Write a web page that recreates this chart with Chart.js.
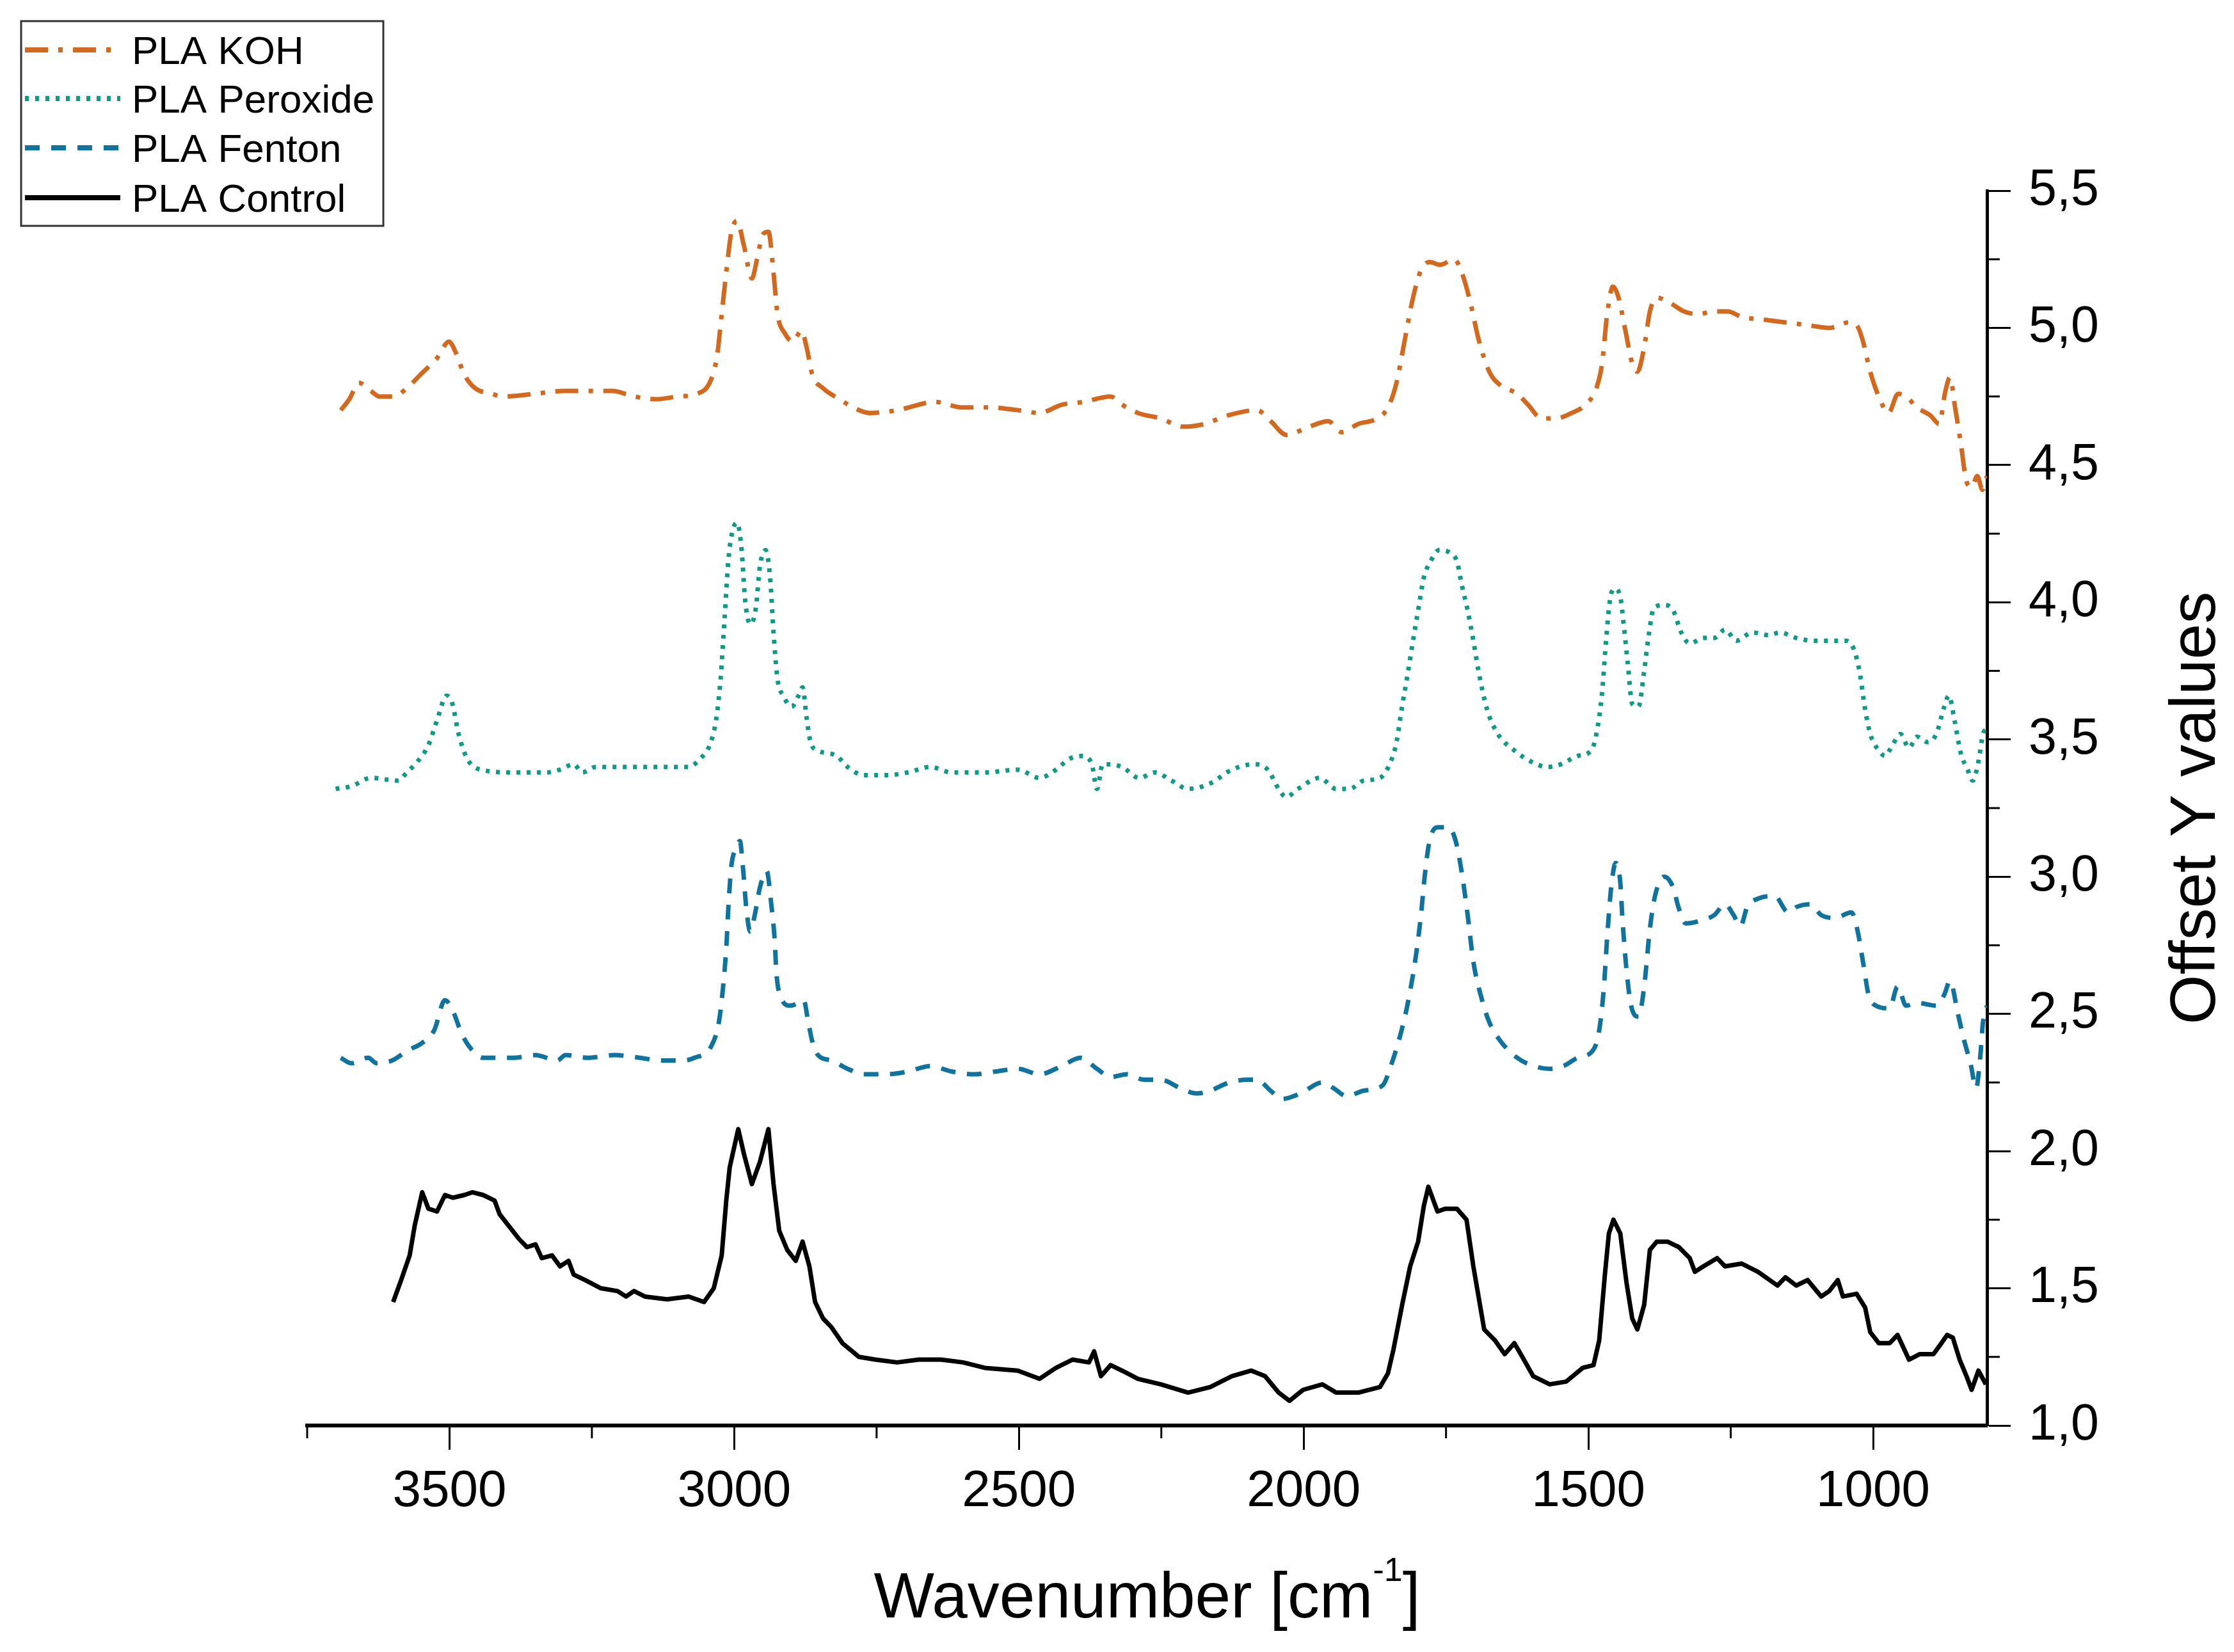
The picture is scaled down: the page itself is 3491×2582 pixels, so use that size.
<!DOCTYPE html>
<html>
<head>
<meta charset="utf-8">
<script src="https://cdn.jsdelivr.net/npm/chart.js@4.4.1/dist/chart.umd.min.js"></script>
<style>
  html, body { margin: 0; padding: 0; background: #fff; }
  #wrap { width: 3491px; height: 2582px; }
</style>
</head>
<body>
<div id="wrap"><canvas id="grafico" width="3491" height="2582"></canvas></div>
<script>
// axis ticks
var xTicks = [1000, 1500, 2000, 2500, 3000, 3500];
var xMinor = [1250, 1750, 2250, 2750, 3250, 3750];
var yTicks = [1.0, 1.5, 2.0, 2.5, 3.0, 3.5, 4.0, 4.5, 5.0, 5.5];
var yMinor = [1.25, 1.75, 2.25, 2.75, 3.25, 3.75, 4.25, 4.75, 5.25];

// PLA KOH
var kohWn = [3691,3676,3659,3638,3623,3599,3575,3551,3522,3501,3489,3474,3455,3426,3407,3349,3301,3253,3214,3176,3137,3099,3065,3041,3030,3022,3012,3005,2995,2983,2969,2960,2950,2940,2931,2924,2911,2897,2882,2873,2863,2844,2815,2791,2762,2714,2647,2599,2550,2502,2464,2425,2387,2339,2319,2291,2251,2212,2174,2135,2082,2058,2030,2001,1977,1957,1933,1904,1871,1852,1837,1823,1808,1794,1779,1760,1736,1722,1707,1693,1674,1654,1625,1606,1582,1558,1529,1505,1486,1476,1467,1457,1447,1435,1423,1414,1402,1392,1380,1356,1332,1308,1279,1255,1231,1192,1154,1115,1077,1043,1029,1019,1005,990,973,956,942,923,899,884,873,865,856,846,836,827,817,808,800];
var kohVal = [4.70,4.74,4.80,4.77,4.75,4.75,4.78,4.83,4.89,4.95,4.91,4.83,4.78,4.76,4.75,4.76,4.77,4.77,4.77,4.75,4.74,4.75,4.76,4.81,4.90,5.05,5.24,5.35,5.39,5.30,5.18,5.25,5.34,5.35,5.20,5.05,4.98,4.95,4.99,4.93,4.83,4.78,4.74,4.71,4.69,4.70,4.73,4.71,4.71,4.70,4.69,4.72,4.73,4.75,4.72,4.69,4.67,4.64,4.65,4.68,4.70,4.66,4.61,4.63,4.65,4.66,4.62,4.65,4.67,4.71,4.80,4.95,5.11,5.21,5.24,5.23,5.25,5.20,5.09,4.96,4.84,4.79,4.76,4.72,4.67,4.67,4.69,4.72,4.78,4.87,5.05,5.15,5.11,4.99,4.87,4.84,4.93,5.06,5.11,5.09,5.06,5.05,5.06,5.06,5.04,5.03,5.02,5.01,5.00,5.02,5.01,4.96,4.84,4.75,4.69,4.76,4.75,4.71,4.68,4.65,4.77,4.82,4.71,4.58,4.44,4.42,4.46,4.41,4.46];

// PLA Peroxide
var peroxWn = [3700,3672,3638,3590,3575,3556,3537,3522,3505,3495,3484,3469,3445,3388,3330,3306,3282,3267,3243,3195,3137,3080,3060,3043,3032,3024,3017,3010,3003,2995,2987,2981,2972,2962,2955,2945,2937,2931,2924,2914,2899,2887,2880,2873,2866,2853,2820,2801,2772,2733,2695,2656,2618,2560,2502,2464,2435,2411,2389,2372,2363,2353,2319,2289,2261,2232,2203,2164,2126,2087,2063,2044,2031,2010,1972,1943,1919,1895,1866,1847,1837,1828,1818,1808,1799,1789,1777,1762,1743,1731,1722,1712,1702,1693,1678,1659,1630,1601,1572,1548,1519,1495,1486,1476,1469,1462,1454,1444,1438,1431,1423,1412,1402,1394,1385,1366,1351,1337,1322,1298,1279,1260,1240,1212,1183,1164,1135,1106,1077,1048,1034,1024,1014,1005,990,979,966,952,937,923,904,889,875,867,857,846,834,825,815,807,800];
var peroxVal = [3.32,3.33,3.36,3.35,3.38,3.42,3.48,3.57,3.66,3.63,3.52,3.43,3.39,3.38,3.38,3.39,3.41,3.38,3.40,3.40,3.40,3.40,3.43,3.48,3.57,3.72,3.94,4.16,4.26,4.29,4.19,4.01,3.92,3.98,4.13,4.19,4.09,3.89,3.72,3.66,3.62,3.66,3.69,3.58,3.49,3.46,3.44,3.40,3.37,3.37,3.38,3.40,3.38,3.38,3.39,3.36,3.39,3.43,3.44,3.41,3.32,3.41,3.40,3.36,3.38,3.35,3.32,3.34,3.39,3.41,3.39,3.32,3.29,3.32,3.36,3.32,3.32,3.35,3.36,3.42,3.49,3.61,3.73,3.86,3.97,4.09,4.15,4.19,4.18,4.15,4.06,3.97,3.86,3.75,3.61,3.52,3.46,3.42,3.40,3.41,3.44,3.46,3.52,3.67,3.86,4.01,4.05,4.02,3.92,3.78,3.63,3.62,3.75,3.88,3.98,3.99,3.97,3.89,3.85,3.87,3.87,3.90,3.86,3.89,3.88,3.89,3.87,3.86,3.86,3.86,3.83,3.75,3.61,3.52,3.46,3.44,3.48,3.52,3.47,3.51,3.49,3.52,3.62,3.66,3.57,3.45,3.39,3.35,3.42,3.52,3.54];

// PLA Fenton
var fentonWn = [3691,3672,3643,3628,3601,3571,3551,3527,3508,3494,3479,3465,3441,3388,3349,3311,3296,3258,3210,3166,3128,3089,3070,3041,3027,3020,3014,3010,3005,2998,2990,2985,2979,2972,2964,2955,2943,2935,2929,2926,2918,2902,2887,2878,2870,2863,2853,2829,2801,2772,2733,2695,2656,2618,2579,2541,2502,2464,2425,2392,2363,2339,2310,2280,2251,2217,2188,2164,2131,2097,2082,2058,2039,2006,1967,1948,1924,1895,1861,1847,1832,1818,1803,1794,1787,1779,1765,1746,1733,1722,1712,1702,1688,1674,1654,1625,1596,1568,1544,1519,1491,1481,1473,1467,1460,1452,1444,1440,1433,1425,1412,1402,1392,1383,1367,1351,1342,1329,1303,1279,1260,1245,1233,1221,1202,1173,1149,1134,1110,1091,1067,1038,1027,1017,1008,995,971,957,942,923,889,875,865,851,841,829,819,812,807,800];
var fentonVal = [2.34,2.32,2.34,2.32,2.33,2.37,2.39,2.44,2.55,2.51,2.43,2.38,2.34,2.34,2.35,2.33,2.35,2.34,2.35,2.34,2.33,2.33,2.34,2.38,2.47,2.59,2.74,2.90,3.04,3.10,3.13,3.04,2.89,2.80,2.86,2.96,3.02,2.90,2.77,2.65,2.56,2.53,2.54,2.55,2.47,2.40,2.35,2.33,2.30,2.28,2.28,2.29,2.31,2.29,2.28,2.29,2.30,2.28,2.31,2.34,2.30,2.27,2.28,2.26,2.26,2.23,2.21,2.22,2.25,2.26,2.26,2.22,2.19,2.21,2.25,2.23,2.20,2.22,2.24,2.31,2.41,2.53,2.71,2.86,3.01,3.13,3.18,3.18,3.13,3.01,2.86,2.69,2.56,2.47,2.40,2.34,2.31,2.30,2.31,2.34,2.37,2.44,2.59,2.78,2.96,3.05,2.98,2.84,2.66,2.53,2.49,2.60,2.81,2.93,3.00,2.96,2.89,2.83,2.84,2.86,2.90,2.86,2.82,2.89,2.92,2.93,2.87,2.89,2.90,2.86,2.85,2.87,2.80,2.68,2.57,2.53,2.52,2.60,2.53,2.54,2.53,2.57,2.62,2.50,2.41,2.32,2.23,2.34,2.47,2.53];

// PLA Control
var controlWn = [3599,3585,3570,3561,3548,3537,3522,3508,3494,3474,3460,3441,3421,3412,3397,3378,3364,3349,3338,3320,3306,3291,3282,3262,3234,3205,3190,3176,3157,3118,3080,3053,3036,3022,3014,3008,2993,2983,2969,2955,2940,2931,2921,2907,2892,2880,2868,2858,2844,2830,2810,2781,2752,2714,2676,2637,2598,2560,2502,2464,2435,2406,2377,2368,2356,2339,2319,2291,2251,2203,2164,2126,2092,2068,2044,2025,2001,1967,1943,1904,1866,1852,1842,1827,1813,1799,1789,1781,1765,1751,1731,1714,1702,1683,1664,1647,1630,1616,1597,1568,1539,1510,1491,1481,1471,1464,1456,1444,1433,1423,1414,1402,1392,1380,1361,1341,1322,1313,1298,1274,1260,1231,1202,1168,1154,1135,1115,1091,1077,1062,1053,1029,1014,1005,990,971,957,937,918,894,880,870,860,848,836,827,815,802];
var controlVal = [1.45,1.53,1.62,1.73,1.85,1.79,1.78,1.84,1.83,1.84,1.85,1.84,1.82,1.77,1.73,1.68,1.65,1.66,1.61,1.62,1.58,1.60,1.55,1.53,1.50,1.49,1.47,1.49,1.47,1.46,1.47,1.45,1.50,1.62,1.82,1.94,2.08,1.99,1.88,1.96,2.08,1.88,1.71,1.64,1.60,1.67,1.58,1.45,1.39,1.36,1.30,1.25,1.24,1.23,1.24,1.24,1.23,1.21,1.20,1.17,1.21,1.24,1.23,1.27,1.18,1.22,1.20,1.17,1.15,1.12,1.14,1.18,1.20,1.18,1.12,1.09,1.13,1.15,1.12,1.12,1.14,1.19,1.28,1.44,1.58,1.67,1.80,1.87,1.78,1.79,1.79,1.75,1.58,1.35,1.31,1.26,1.30,1.25,1.18,1.15,1.16,1.21,1.22,1.31,1.55,1.70,1.75,1.70,1.52,1.39,1.35,1.44,1.64,1.67,1.67,1.65,1.61,1.56,1.58,1.61,1.58,1.59,1.56,1.51,1.54,1.51,1.53,1.47,1.49,1.53,1.47,1.48,1.43,1.34,1.30,1.30,1.33,1.24,1.26,1.26,1.30,1.33,1.32,1.24,1.18,1.13,1.20,1.15];

var FONT = '"Liberation Sans", Arial, sans-serif';

function pts(wn, val) {
  return wn.map(function (w, i) { return { x: w, y: val[i] }; });
}

var series = [
  { label: 'PLA KOH', data: pts(kohWn, kohVal), color: '#D2691E', dash: [36, 16, 7, 16] },
  { label: 'PLA Peroxide', data: pts(peroxWn, peroxVal), color: '#0E9A84', dash: [6, 10] },
  { label: 'PLA Fenton', data: pts(fentonWn, fentonVal), color: '#0F739E', dash: [23, 18] },
  { label: 'PLA Control', data: pts(controlWn, controlVal), color: '#000000', dash: [] }
];

// minor ticks, titles and the boxed legend
var extras = {
  id: 'extras',
  afterDraw: function (chart) {
    var c = chart.ctx, x = chart.scales.x, y = chart.scales.y, a = chart.chartArea;
    c.save();
    c.strokeStyle = '#000';
    c.lineWidth = 3;
    xMinor.forEach(function (v) {
      var px = x.getPixelForValue(v);
      c.beginPath(); c.moveTo(px, a.bottom); c.lineTo(px, a.bottom + 20); c.stroke();
    });
    yMinor.forEach(function (v) {
      var py = y.getPixelForValue(v);
      c.beginPath(); c.moveTo(a.right, py); c.lineTo(a.right + 20, py); c.stroke();
    });

    // x title with superscript
    c.fillStyle = '#000';
    c.textBaseline = 'alphabetic';
    c.textAlign = 'left';
    var big = '100px ' + FONT, small = '52px ' + FONT;
    c.font = big;
    var w1 = c.measureText('Wavenumber [cm').width;
    var w3 = c.measureText(']').width;
    c.font = small;
    var w2 = c.measureText('-1').width;
    var cx = (a.left + a.right) / 2;
    var sx = cx - (w1 + w2 + w3) / 2;
    var base = 2528;
    c.font = big;
    c.fillText('Wavenumber [cm', sx, base);
    c.font = small;
    c.fillText('-1', sx + w1, base - 57);
    c.font = big;
    c.fillText(']', sx + w1 + w2, base);

    // y title, reading bottom to top
    c.save();
    c.translate(3461, (a.top + a.bottom) / 2);
    c.rotate(-Math.PI / 2);
    c.textAlign = 'center';
    c.font = big;
    c.fillText('Offset Y values', 0, 0);
    c.restore();

    // legend
    c.fillStyle = '#fff';
    c.fillRect(33, 33, 566, 320);
    c.lineWidth = 3;
    c.strokeStyle = '#333';
    c.setLineDash([]);
    c.strokeRect(33, 33, 566, 320);
    var rows = [78, 154, 231, 309];
    series.forEach(function (s, i) {
      c.strokeStyle = s.color;
      c.lineWidth = 8;
      c.setLineDash(s.dash);
      c.beginPath(); c.moveTo(39, rows[i]); c.lineTo(188, rows[i]); c.stroke();
      c.setLineDash([]);
      c.fillStyle = '#000';
      c.font = '62px ' + FONT;
      c.textAlign = 'left';
      c.textBaseline = 'alphabetic';
      c.fillText(s.label, 206, rows[i] + 22);
    });
    c.restore();
  }
};

var ctx = document.getElementById('grafico').getContext('2d');

var chart = new Chart(ctx, {
  type: 'line',
  data: {
    datasets: series.map(function (s) {
      return {
        label: s.label,
        data: s.data,
        borderColor: s.color,
        backgroundColor: 'transparent',
        borderWidth: 7,
        borderDash: s.dash,
        borderCapStyle: 'butt',
        borderJoinStyle: 'round',
        pointRadius: 0,
        fill: false,
        tension: 0,
        cubicInterpolationMode: s.dash.length ? 'monotone' : 'default'
      };
    })
  },
  options: {
    responsive: false,
    animation: false,
    devicePixelRatio: 1,
    layout: { padding: { left: 480, top: 298, right: 0, bottom: 0 } },
    plugins: { legend: { display: false }, tooltip: { enabled: false } },
    scales: {
      x: {
        type: 'linear',
        reverse: true,
        min: 800,
        max: 3750,
        afterBuildTicks: function (scale) {
          scale.ticks = xTicks.map(function (v) { return { value: v }; });
        },
        afterFit: function (scale) { scale.height = 354; },
        grid: { drawOnChartArea: false, drawTicks: true, tickLength: 38, tickWidth: 3, tickColor: '#000' },
        border: { display: true, color: '#000', width: 6 },
        ticks: {
          autoSkip: false,
          maxRotation: 0,
          padding: 18,
          color: '#000',
          font: { family: FONT, size: 80 },
          callback: function (v) { return String(v); }
        }
      },
      y: {
        type: 'linear',
        position: 'right',
        min: 1,
        max: 5.5,
        afterBuildTicks: function (scale) {
          scale.ticks = yTicks.map(function (v) { return { value: v }; });
        },
        afterFit: function (scale) { scale.width = 386; },
        grid: { drawOnChartArea: false, drawTicks: true, tickLength: 37, tickWidth: 3, tickColor: '#000' },
        border: { display: true, color: '#000', width: 5 },
        ticks: {
          autoSkip: false,
          padding: 28,
          color: '#000',
          font: { family: FONT, size: 79 },
          callback: function (v) { return Number(v).toFixed(1).replace('.', ','); }
        }
      }
    }
  },
  plugins: [extras]
});
</script>
</body>
</html>
